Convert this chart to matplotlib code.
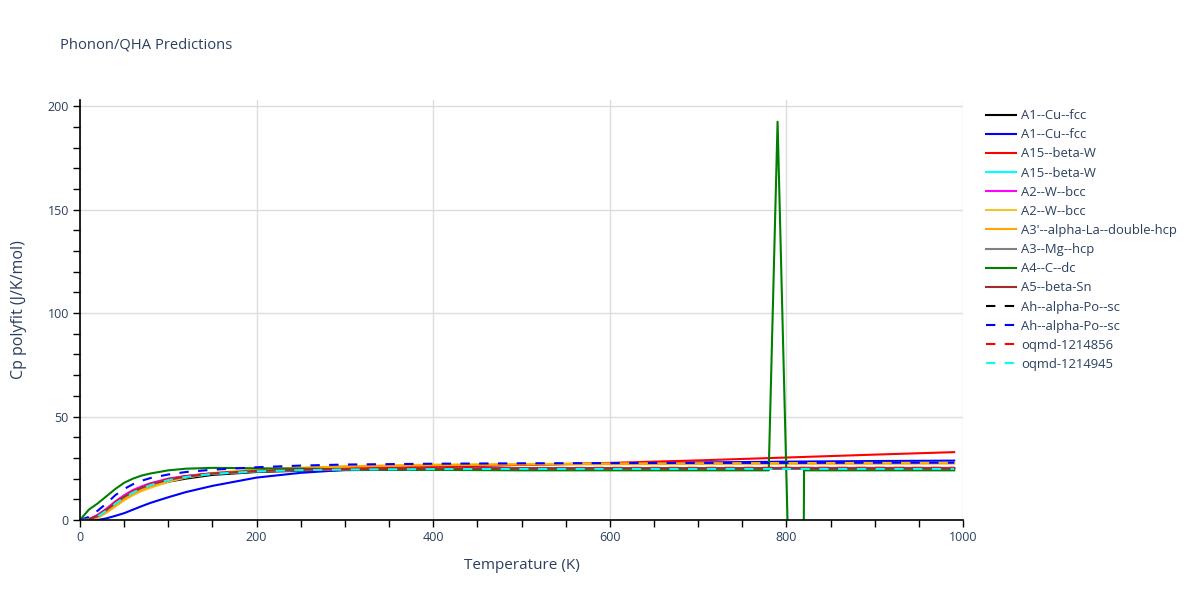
import matplotlib.pyplot as plt
from matplotlib.ticker import MultipleLocator

# temperatures (K)
T = [0, 10, 20, 30, 40, 50, 60, 70, 80, 100, 120, 150, 200, 250, 300, 400, 500, 600, 700, 800, 900, 990]

# Cp polyfit (J/K/mol) per structure
cu_black  = [0, 0.2, 1.5, 4, 7, 10, 12.5, 14.5, 16, 18.5, 20, 21.8, 23.2, 23.8, 24.1, 24.4, 24.5, 24.6, 24.7, 24.7, 24.8, 24.8]
cu_blue   = [0, 0, 0, 0.8, 2, 3.3, 5, 6.7, 8.3, 11, 13.5, 16.5, 20.5, 22.8, 24.2, 25.8, 26.7, 27.3, 27.8, 28.2, 28.5, 28.7]
a15_red   = [0, 0.3, 2, 5, 8.5, 11.5, 14, 16, 17.5, 19.8, 21.2, 22.6, 23.8, 24.5, 25, 25.8, 26.6, 27.6, 28.8, 30.2, 31.6, 32.8]
a15_cyan  = [0, 0.2, 1.6, 4.5, 7.8, 10.8, 13.2, 15.2, 16.8, 19.2, 20.7, 22.3, 23.5, 24.1, 24.4, 24.6, 24.7, 24.7, 24.8, 24.8, 24.8, 24.8]
w_mag     = [0, 0.4, 2.5, 5.5, 9, 12, 14.5, 16.3, 17.8, 20, 21.3, 22.6, 23.7, 24.3, 24.6, 24.9, 25, 25.1, 25.1, 25.2, 25.2, 25.2]
w_yel     = [0, 0.1, 1, 3.5, 6.5, 9.5, 12, 14, 15.5, 18.5, 20.5, 22.5, 24.2, 25.2, 26, 26.8, 27.1, 27.3, 27.4, 27.5, 27.6, 27.6]
la_orange = [0, 0.2, 1.3, 4, 7, 10, 12.5, 14.5, 16.2, 19, 20.8, 22.7, 24.3, 25.2, 25.8, 26.5, 26.8, 27, 27.1, 27.2, 27.2, 27.3]
mg_grey   = [0, 0.2, 1.8, 4.8, 8.2, 11.2, 13.6, 15.6, 17.1, 19.5, 21, 22.4, 23.6, 24.2, 24.5, 24.8, 24.9, 25, 25, 25, 25, 25]
sn_brown  = [0, 0.3, 2, 5, 8.3, 11.3, 13.7, 15.7, 17.2, 19.6, 21, 22.5, 23.7, 24.3, 24.6, 24.9, 25, 25, 25, 25, 25, 25]
po_black  = [0, 0.3, 1.9, 4.9, 8.2, 11.2, 13.6, 15.6, 17.1, 19.5, 20.9, 22.4, 23.6, 24.2, 24.5, 24.8, 24.9, 24.9, 25, 25, 25, 25]
po_blue   = [0, 1.5, 4.5, 8, 12, 15, 17.3, 19, 20.3, 22, 23.2, 24.3, 25.5, 26.3, 26.8, 27.2, 27.4, 27.5, 27.6, 27.6, 27.7, 27.7]
oq_red    = [0, 0.3, 2.1, 5.1, 8.5, 11.5, 13.9, 15.9, 17.4, 19.7, 21.1, 22.5, 23.7, 24.3, 24.7, 25, 25.1, 25.2, 25.2, 25.2, 25.2, 25.2]
oq_cyan   = [0, 0.2, 1.7, 4.6, 7.9, 10.9, 13.3, 15.3, 16.9, 19.3, 20.8, 22.3, 23.5, 24.1, 24.4, 24.6, 24.7, 24.7, 24.7, 24.7, 24.7, 24.7]

# diamond has its own grid because of the spike near 790 K
T_c = [0, 10, 20, 30, 40, 50, 60, 70, 80, 100, 120, 150, 200, 250, 300, 400, 500, 600, 700, 780, 790, 803, 815, 820, 900, 990]
c_green = [0, 5, 8, 11.5, 15, 18, 20, 21.5, 22.5, 24, 24.8, 25.2, 25, 24.8, 24.5, 24.2, 24, 24, 24, 24, 192.5, -30, -400, 24, 24, 24]

labels = ['A1--Cu--fcc', 'A1--Cu--fcc', 'A15--beta-W', 'A15--beta-W', 'A2--W--bcc', 'A2--W--bcc',
          "A3'--alpha-La--double-hcp", 'A3--Mg--hcp', 'A4--C--dc', 'A5--beta-Sn',
          'Ah--alpha-Po--sc', 'Ah--alpha-Po--sc', 'oqmd-1214856', 'oqmd-1214945']
colors = ['black', 'blue', 'red', 'cyan', 'magenta', '#f2c52e', 'orange', 'gray', 'green', 'brown',
          'black', 'blue', 'red', 'cyan']
series = [cu_black, cu_blue, a15_red, a15_cyan, w_mag, w_yel, la_orange, mg_grey, c_green, sn_brown,
          po_black, po_blue, oq_red, oq_cyan]

txt = '#2a3f5f'
plt.rcParams['font.family'] = ['Open Sans', 'DejaVu Sans']

fig = plt.figure(figsize=(12, 6), dpi=100)
ax = fig.add_axes([80/1200, 80/600, 883/1200, 420/600])

for i in range(len(labels)):
    x = T_c if labels[i] == 'A4--C--dc' else T
    if i >= 10:
        ax.plot(x, series[i], color=colors[i], lw=1.5, dashes=(4.5, 4.5), label=labels[i])
    else:
        ax.plot(x, series[i], color=colors[i], lw=1.5, label=labels[i])

ax.set_xlim(0, 1000)
ax.set_ylim(0, 203)
ax.xaxis.set_major_locator(MultipleLocator(200))
ax.xaxis.set_minor_locator(MultipleLocator(50))
ax.yaxis.set_major_locator(MultipleLocator(50))
ax.yaxis.set_minor_locator(MultipleLocator(10))
ax.grid(True, which='major', color='#dcdcdc', lw=1)
ax.set_axisbelow(True)
for s in ['top', 'right']:
    ax.spines[s].set_visible(False)
for s in ['left', 'bottom']:
    ax.spines[s].set_linewidth(1.2)
ax.tick_params(which='both', direction='out', length=5, width=1, labelsize=9, labelcolor=txt, pad=3)
ax.set_xlabel('Temperature (K)', fontsize=11, color=txt, labelpad=10)
ax.set_ylabel('Cp polyfit (J/K/mol)', fontsize=11.5, color=txt, labelpad=15)

fig.text(60/1200, 1 - 45/600, 'Phonon/QHA Predictions', fontsize=10.6, color=txt, va='center')

leg = ax.legend(loc='upper left', bbox_to_anchor=(1.02, 1.0 - 4/420), frameon=False, fontsize=9.4,
                handlelength=2.3, handletextpad=0.4, labelspacing=0.47, borderaxespad=0)
for t in leg.get_texts():
    t.set_color(txt)

fig.savefig('out.png', dpi=100)
